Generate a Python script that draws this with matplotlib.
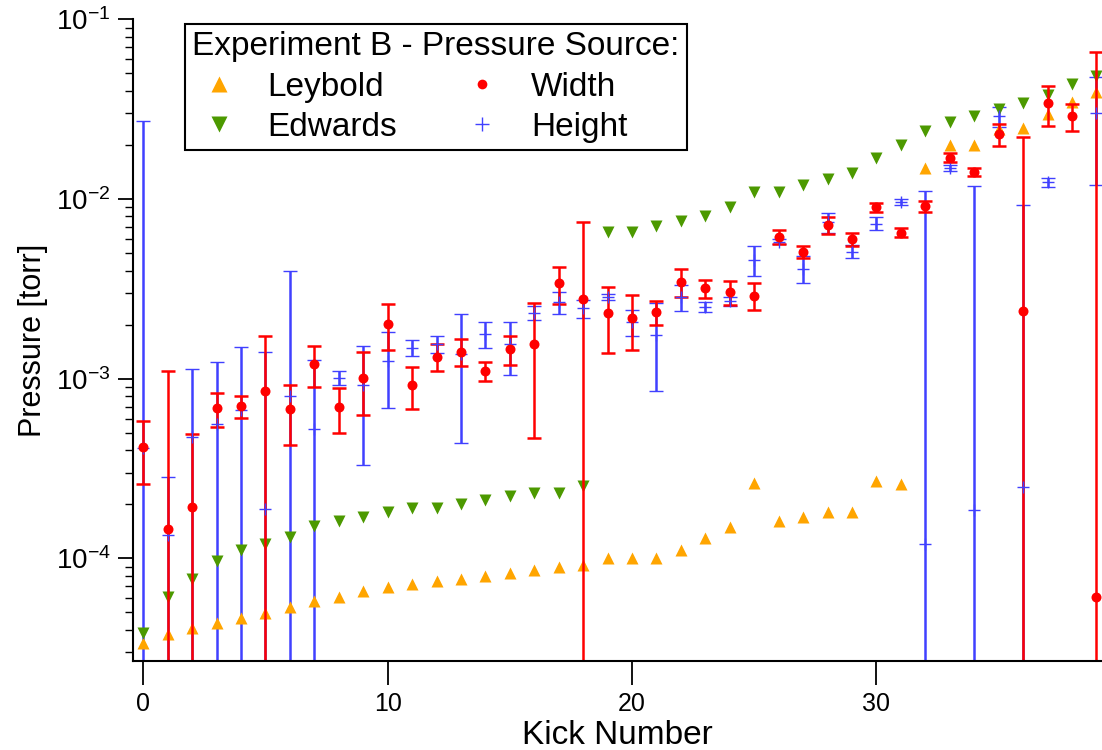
import matplotlib
matplotlib.use('Agg')
import matplotlib.pyplot as plt
from matplotlib.lines import Line2D
from matplotlib.ticker import LogLocator, NullFormatter
import numpy as np

plt.rcParams['font.family'] = 'Liberation Sans'
plt.rcParams['mathtext.fontset'] = 'custom'
plt.rcParams['mathtext.rm'] = 'Liberation Sans'
plt.rcParams['mathtext.it'] = 'Liberation Sans:italic'
plt.rcParams['mathtext.bf'] = 'Liberation Sans:bold'

kick = np.arange(40)

leybold = [3.40e-5, 3.79e-5, 4.08e-5, 4.35e-5, 4.68e-5, 4.99e-5, 5.38e-5, 5.82e-5, 6.07e-5, 6.59e-5,
           6.96e-5, 7.18e-5, 7.52e-5, 7.65e-5, 7.98e-5, 8.32e-5, 8.61e-5, 8.96e-5, 9.16e-5, 1.01e-4,
           1.01e-4, 1.01e-4, 1.11e-4, 1.30e-4, 1.50e-4, 2.62e-4, 1.61e-4, 1.70e-4, 1.81e-4, 1.81e-4,
           2.70e-4, 2.60e-4, 1.49e-2, 1.99e-2, 1.99e-2, 2.46e-2, 2.48e-2, 2.98e-2, 3.46e-2, 3.96e-2]

edwards = [3.85e-5, 6.10e-5, 7.65e-5, 9.64e-5, 1.11e-4, 1.20e-4, 1.31e-4, 1.51e-4, 1.62e-4, 1.71e-4,
           1.81e-4, 1.90e-4, 1.90e-4, 2.01e-4, 2.11e-4, 2.22e-4, 2.31e-4, 2.31e-4, 2.53e-4, 6.58e-3,
           6.58e-3, 7.05e-3, 7.57e-3, 8.01e-3, 8.99e-3, 1.10e-2, 1.10e-2, 1.19e-2, 1.29e-2, 1.39e-2,
           1.70e-2, 2.00e-2, 2.39e-2, 2.68e-2, 2.89e-2, 3.16e-2, 3.41e-2, 3.78e-2, 4.35e-2, 4.82e-2]

# pressure from the fitted beam width, with its error
width = [4.18e-4, 1.45e-4, 1.94e-4, 6.85e-4, 7.05e-4, 8.58e-4, 6.78e-4, 1.21e-3, 6.93e-4, 1.013e-3,
         2.02e-3, 9.23e-4, 1.326e-3, 1.413e-3, 1.104e-3, 1.46e-3, 1.55e-3, 3.40e-3, 2.78e-3, 2.31e-3,
         2.18e-3, 2.36e-3, 3.47e-3, 3.18e-3, 3.03e-3, 2.90e-3, 6.17e-3, 5.09e-3, 7.17e-3, 5.97e-3,
         8.99e-3, 6.49e-3, 9.14e-3, 1.70e-2, 1.41e-2, 2.30e-2, 2.39e-3, 3.41e-2, 2.88e-2, 6.07e-5]
width_err = [1.6e-4, 9.6e-4, 3.0e-4, 1.45e-4, 1.0e-4, 8.8e-4, 2.5e-4, 3.1e-4, 1.94e-4, 3.86e-4,
             5.8e-4, 2.46e-4, 2.25e-4, 2.4e-4, 1.27e-4, 2.7e-4, 1.08e-3, 8.0e-4, 4.69e-3, 9.2e-4,
             7.3e-4, 3.6e-4, 6.3e-4, 3.5e-4, 4.7e-4, 5.0e-4, 5.2e-4, 3.8e-4, 7.5e-4, 5.1e-4,
             5.3e-4, 3.8e-4, 6.5e-4, 9.5e-4, 7.0e-4, 3.2e-3, 1.98e-2, 8.6e-3, 4.8e-3, 6.54e-2]

# pressure from the fitted peak height, with its error
height = [4.1e-4, 1.355e-4, 4.75e-4, 5.6e-4, 6.7e-4, 1.88e-4, 7.98e-4, 5.23e-4, 1.01e-3, 9.26e-4,
          1.26e-3, 1.49e-3, 1.56e-3, 1.37e-3, 1.77e-3, 1.56e-3, 2.33e-3, 2.66e-3, 2.46e-3, 2.86e-3,
          2.06e-3, 1.75e-3, 2.86e-3, 2.52e-3, 2.70e-3, 4.6e-3, 5.8e-3, 4.1e-3, 7.4e-3, 5.1e-3,
          7.3e-3, 9.6e-3, 1.2e-4, 1.49e-2, 1.85e-4, 2.9e-2, 2.49e-4, 1.24e-2, np.nan, 3.0e-2]
height_err = [2.69e-2, 1.5e-4, 6.55e-4, 6.8e-4, 8.25e-4, 1.225e-3, 3.19e-3, 7.5e-4, 9.0e-5, 5.94e-4,
              5.7e-4, 1.5e-4, 1.65e-4, 9.3e-4, 2.95e-4, 5.1e-4, 2.1e-4, 3.7e-4, 2.7e-4, 1.1e-4,
              3.4e-4, 9.0e-4, 4.7e-4, 1.6e-4, 1.6e-4, 8.9e-4, 2.0e-4, 6.9e-4, 9.7e-4, 4.2e-4,
              6.0e-4, 3.7e-4, 1.1e-2, 5.5e-4, 1.17e-2, 3.7e-3, 9.0e-3, 7.5e-4, np.nan, 1.8e-2]

orange = '#ffa500'
green = '#4c9900'
blue = '#4040ff'
red = '#ff0000'

fig = plt.figure(figsize=(11.02, 7.5), dpi=100, facecolor='white')
ax = fig.add_axes([133/1102, 1-661/750, (1102-133)/1102, (661-19.3)/750])

ax.errorbar(kick, height, yerr=height_err, fmt='+', color=blue, ms=9, mew=1,
            elinewidth=1.8, capsize=4.8, capthick=1.8)
ax.plot(kick, leybold, '^', color=orange, ms=9, mec='none')
ax.plot(kick, edwards, 'v', color=green, ms=9, mec='none')
ax.errorbar(kick, width, yerr=width_err, fmt='o', color=red, ms=7.2, mec='none',
            elinewidth=1.8, capsize=4.8, capthick=1.8)

ax.set_yscale('log')
ax.set_ylim(10**(-1-(661-19.3)/179.7), 0.1)
ax.set_xlim(-0.42, 39.23)
ax.set_xticks([0, 10, 20, 30])
ax.set_yticks([1e-4, 1e-3, 1e-2, 1e-1])
ax.yaxis.set_minor_locator(LogLocator(base=10, subs=np.arange(2, 10)))
ax.yaxis.set_minor_formatter(NullFormatter())

ax.spines['top'].set_visible(False)
ax.spines['right'].set_visible(False)
ax.spines['left'].set_linewidth(1.5)
ax.spines['bottom'].set_linewidth(1.5)

ax.tick_params(axis='x', which='major', length=17, width=1.3, labelsize=18, pad=5)
ax.tick_params(axis='y', which='major', length=11, width=1.3, labelsize=20, pad=5)
ax.tick_params(axis='y', which='minor', length=6, width=1.0)

ax.set_xlabel('Kick Number', fontsize=24, labelpad=3)
ax.set_ylabel('Pressure [torr]', fontsize=22, labelpad=6)

handles = [Line2D([], [], ls='none', marker='^', color=orange, ms=12, mec='none'),
           Line2D([], [], ls='none', marker='v', color=green, ms=12, mec='none'),
           Line2D([], [], ls='none', marker='o', color=red, ms=7, mec='none'),
           Line2D([], [], ls='none', marker='+', color=blue, ms=10, mew=1)]
leg = ax.legend(handles, ['Leybold', 'Edwards', 'Width', 'Height'], ncol=2,
                title='Experiment B - Pressure Source:', title_fontsize=24, fontsize=24,
                loc='upper left', bbox_to_anchor=(185/1102, 1-24/750),
                bbox_transform=fig.transFigure, fancybox=False, edgecolor='black',
                framealpha=1, handlelength=1.6, handletextpad=0.66, columnspacing=1.75,
                borderpad=0.22, labelspacing=0.28, borderaxespad=0)
leg.get_frame().set_linewidth(1.5)
leg._legend_box.align = 'left'

plt.savefig('out.png', dpi=100)
